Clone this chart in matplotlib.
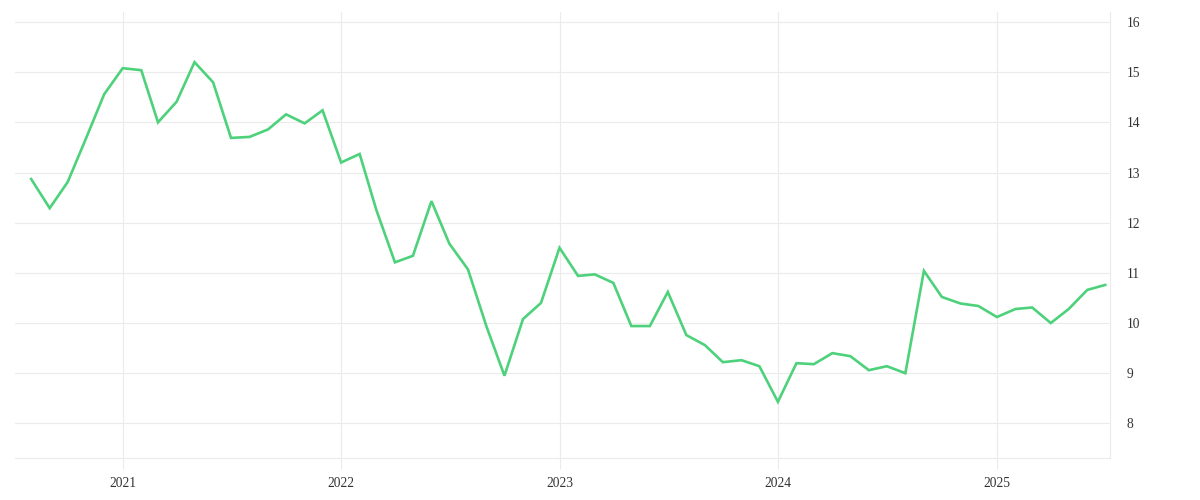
import matplotlib
matplotlib.use("Agg")
import matplotlib.pyplot as plt
import matplotlib.dates as mdates
import pandas as pd

# monthly values, Aug 2020 .. Jul 2025
dates = pd.date_range("2020-08-01", "2025-07-01", freq="MS")
values = [
    12.87, 12.29, 12.81, 13.69, 14.56,                      # 2020 Aug-Dec
    15.08, 15.04, 14.00, 14.41, 15.20, 14.80,               # 2021
    13.69, 13.71, 13.86, 14.16, 13.98, 14.24,
    13.20, 13.37, 12.25, 11.21, 11.34, 12.43,               # 2022
    11.58, 11.07, 9.93, 8.95, 10.08, 10.40,
    11.50, 10.94, 10.97, 10.80, 9.94, 9.94,                 # 2023
    10.62, 9.76, 9.56, 9.22, 9.26, 9.14,
    8.43, 9.20, 9.18, 9.40, 9.34, 9.06,                     # 2024
    9.14, 9.00, 11.04, 10.52, 10.39, 10.34,
    10.12, 10.28, 10.31, 10.00, 10.28, 10.66, 10.76,        # 2025
]
year_ticks = pd.to_datetime(["2021-01-01", "2022-01-01", "2023-01-01",
                             "2024-01-01", "2025-01-01"])
year_labels = ["2021", "2022", "2023", "2024", "2025"]
y_ticks = [8, 9, 10, 11, 12, 13, 14, 15, 16]

grid_col = "#ebebeb"
text_col = "#333333"

fig = plt.figure(figsize=(12, 5), dpi=100)
ax = fig.add_axes([0.0125, 0.084, 0.9125, 0.892])

ax.plot(dates, values, color="#4dd17b", linewidth=1.9, solid_joinstyle="miter")

ax.set_xlim(pd.Timestamp("2020-07-05"), pd.Timestamp("2025-07-09"))
ax.set_ylim(7.31, 16.2)

ax.set_xticks(year_ticks)
ax.set_xticklabels(year_labels)
ax.set_yticks(y_ticks)
ax.set_yticklabels([str(v) for v in y_ticks])

ax.yaxis.tick_right()
ax.grid(True, color=grid_col, linewidth=0.8)
ax.set_axisbelow(True)

for side in ["top", "left"]:
    ax.spines[side].set_visible(False)
for side in ["bottom", "right"]:
    ax.spines[side].set_color(grid_col)
    ax.spines[side].set_linewidth(0.8)

ax.tick_params(axis="x", length=8, color=grid_col, width=0.8, pad=6,
               labelsize=9.75, labelcolor=text_col)
ax.tick_params(axis="y", length=0, pad=12, labelsize=9.75, labelcolor=text_col)
for lab in ax.get_xticklabels() + ax.get_yticklabels():
    lab.set_family(["Liberation Serif", "DejaVu Serif"])

fig.savefig("out.png", dpi=100, facecolor="white")
